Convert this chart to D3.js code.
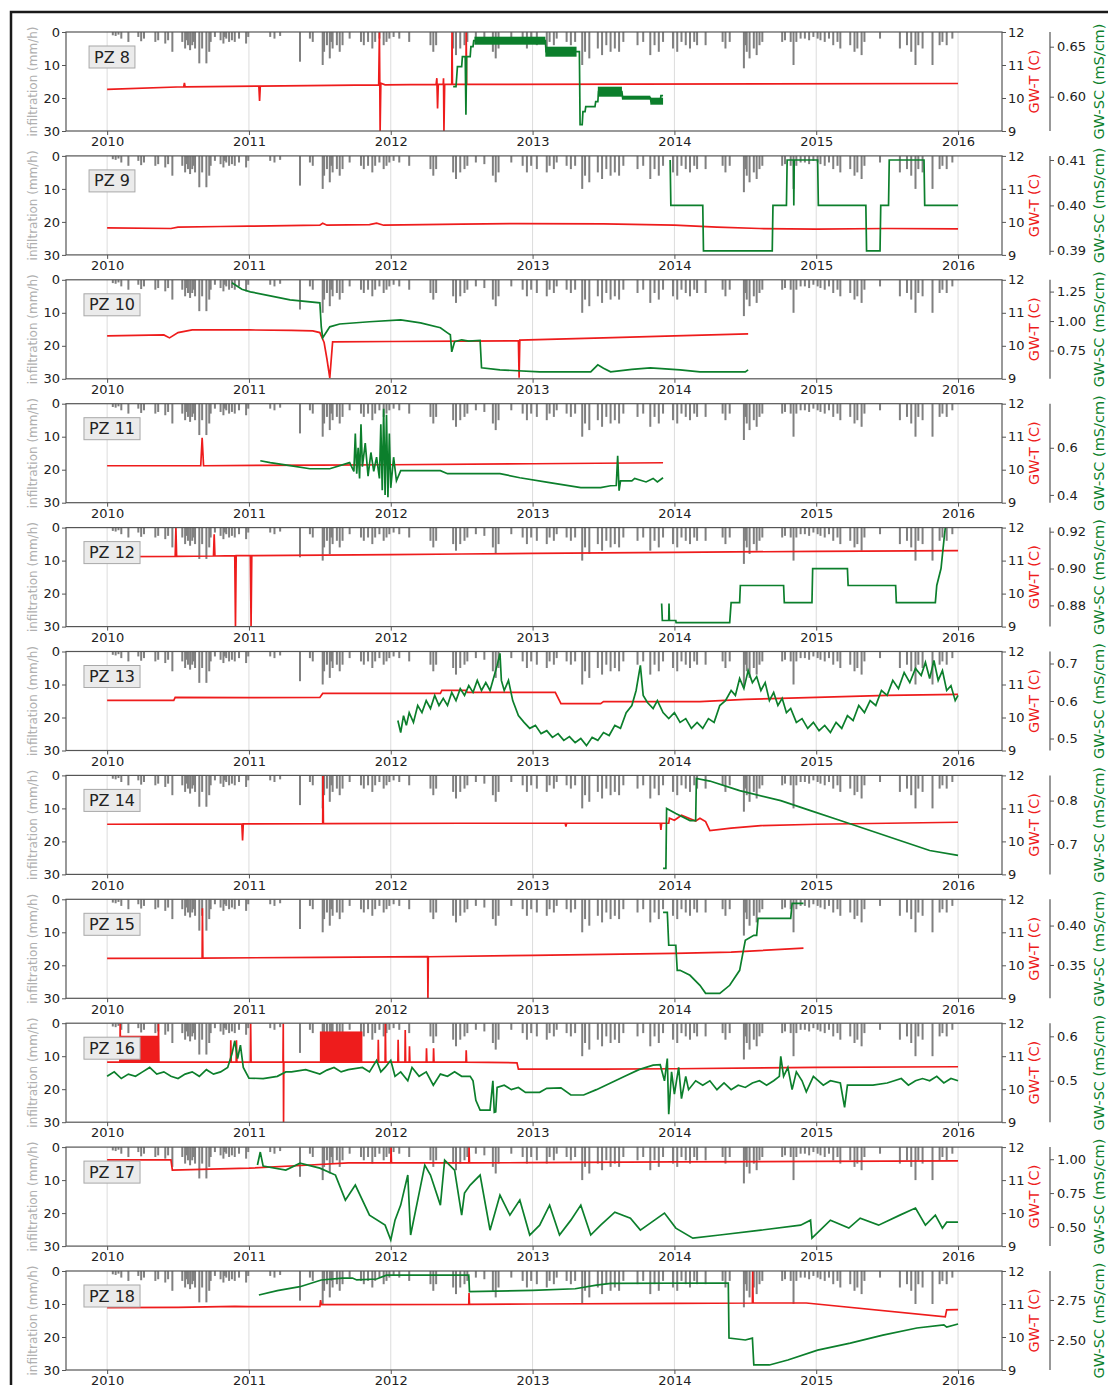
<!DOCTYPE html>
<html>
<head>
<meta charset="utf-8">
<script src="https://cdn.jsdelivr.net/npm/d3@7"></script>
<style>
  body { margin: 0; background: #fff; }
  text { font-family: "DejaVu Sans", sans-serif; }
</style>
</head>
<body>
<div id="chart"></div>
<script>
// Groundwater temperature / conductivity vs infiltration, 11 piezometers

const years = [2010, 2011, 2012, 2013, 2014, 2015, 2016];
const panelNames = ["PZ 8", "PZ 9", "PZ 10", "PZ 11", "PZ 12", "PZ 13", "PZ 14", "PZ 15", "PZ 16", "PZ 17", "PZ 18"];
const infTicks = [0, 10, 20, 30];
const tempTicks = [9, 10, 11, 12];

// infiltration (mm/h), same series in every panel: [year, value]
const infiltration = [
  [2010.04,1],[2010.06,1.2],[2010.08,0.8],[2010.10,2],[2010.15,3],[2010.22,1.5],[2010.24,2.8],[2010.26,2],
  [2010.34,3],[2010.36,2.5],[2010.41,3.5],[2010.43,2.5],[2010.46,6],[2010.53,3],[2010.55,5],[2010.56,2.5],[2010.57,4],
  [2010.585,5.5],[2010.60,4],[2010.61,3],[2010.62,5],[2010.65,9.5],[2010.67,5],[2010.70,9.5],[2010.72,6],[2010.73,3],
  [2010.76,1.5],[2010.80,2.5],[2010.82,3.5],[2010.83,1.5],[2010.84,2],[2010.86,3],[2010.88,2.5],[2010.90,3],[2010.93,2],
  [2010.98,3.5],[2010.995,1.5],
  [2011.15,1.5],[2011.18,2],[2011.22,1.2],[2011.36,9],[2011.43,2],[2011.45,3],[2011.52,10],[2011.53,6],
  [2011.55,4],[2011.57,8],[2011.58,3],[2011.59,5],[2011.62,4],[2011.64,6],[2011.66,4],[2011.71,2],[2011.79,3],
  [2011.81,4],[2011.84,3],[2011.87,5],[2011.89,3],[2011.92,2],[2011.95,4],[2011.97,3],[2011.99,2],
  [2012.02,1.5],[2012.06,2],[2012.13,3],[2012.28,4],[2012.30,6],[2012.32,4],[2012.44,5],[2012.46,7],
  [2012.49,5],[2012.52,4],[2012.54,3],[2012.60,2],[2012.66,2.5],[2012.72,6],[2012.74,8],[2012.76,5],
  [2012.85,2],[2012.93,3],[2012.96,5],[2012.99,3],
  [2013.03,4],[2013.10,5],[2013.12,3],[2013.15,4],[2013.17,2],[2013.24,3],[2013.27,4],[2013.30,3],
  [2013.35,10],[2013.37,6],[2013.40,8],[2013.46,5],[2013.49,7],[2013.52,4],[2013.55,6],[2013.58,5],
  [2013.61,6],[2013.64,3],[2013.74,4],[2013.78,3],[2013.83,7],[2013.86,4],[2013.89,6],[2013.92,3],
  [2013.99,5],[2014.02,6],[2014.05,3],
  [2014.08,4],[2014.11,5],[2014.14,3],[2014.16,4],[2014.22,4],[2014.34,3],[2014.36,5],[2014.39,3],
  [2014.49,11],[2014.50,4],[2014.51,6],[2014.53,8],[2014.56,5],[2014.58,7],[2014.60,4],[2014.62,3],[2014.76,3],
  [2014.78,2.5],[2014.82,3],[2014.84,10],[2014.86,3],[2014.89,2],[2014.92,2],[2014.95,2.5],[2014.98,1.5],
  [2015.01,2],[2015.03,2.5],[2015.06,3],[2015.09,2],[2015.12,4],[2015.15,3],[2015.17,5],[2015.24,4],
  [2015.27,6],[2015.29,5],[2015.32,7],[2015.34,3],[2015.45,2],[2015.59,5],[2015.64,4],[2015.67,6],
  [2015.70,10],[2015.72,4],[2015.75,5],[2015.82,10],[2015.87,4],[2015.89,3],[2015.92,4],[2015.96,2]
];

// GW-T (C) per piezometer: [year, value]
const tempPZ8 = [[2010,10.26],[2010.54,10.34],[2010.545,10.46],[2010.55,10.34],[2011.07,10.36],[2011.075,9.91],[2011.08,10.36],
  [2011.915,10.40],[2011.92,12],[2011.925,9],[2011.93,10.45],[2011.96,10.40],[2012.32,10.41],[2012.325,10.6],[2012.33,9.68],
  [2012.335,10.41],[2012.37,10.41],[2012.372,10.6],[2012.375,9],[2012.38,10.41],[2012.43,10.41],[2012.432,12],[2012.435,10.41],
  [2012.53,10.41],[2012.532,12],[2012.535,10.41],[2016,10.44]];
const tempPZ9 = [[2010,9.82],[2010.45,9.80],[2010.5,9.84],[2010.8,9.86],[2011,9.87],[2011.5,9.90],[2011.52,9.96],[2011.55,9.9],
  [2011.85,9.92],[2011.9,9.96],[2011.95,9.9],[2012.5,9.93],[2012.9,9.95],[2013.5,9.94],[2014,9.9],[2014.3,9.84],[2014.6,9.80],
  [2015,9.78],[2015.5,9.80],[2016,9.79]];
const tempPZ10 = [[2010,10.30],[2010.4,10.33],[2010.44,10.24],[2010.5,10.40],[2010.6,10.48],[2011,10.48],[2011.3,10.47],[2011.45,10.45],
  [2011.5,10.40],[2011.53,10.1],[2011.55,9.6],[2011.57,9.03],[2011.59,10.12],[2012,10.13],[2012.5,10.14],[2012.9,10.15],
  [2012.905,9.03],[2012.91,10.17],[2013.5,10.24],[2014,10.30],[2014.52,10.36]];
const tempPZ11 = [[2010,10.12],[2010.66,10.12],[2010.67,10.97],[2010.68,10.12],[2011.5,10.14],[2012,10.15],[2013,10.18],[2013.92,10.21]];
const tempPZ12 = [[2010,11.12],[2010.48,11.13],[2010.485,12],[2010.49,11.13],[2010.75,11.14],[2010.755,11.8],[2010.76,11.14],
  [2010.90,11.15],[2010.905,9],[2010.91,11.15],[2011.01,11.15],[2011.015,9],[2011.02,11.15],[2012,11.18],[2012.5,11.2],
  [2013,11.22],[2014,11.25],[2015,11.28],[2016,11.30]];
const tempPZ13 = [[2010,10.52],[2010.47,10.52],[2010.48,10.61],[2011,10.6],[2011.5,10.61],[2011.52,10.73],[2012.35,10.73],
  [2012.36,10.82],[2012.53,10.82],[2012.54,10.76],[2013.16,10.76],[2013.2,10.42],[2013.48,10.42],[2013.5,10.48],[2014.18,10.48],
  [2014.5,10.55],[2015,10.61],[2015.5,10.67],[2016,10.70]];
const tempPZ14 = [[2010,10.52],[2010.95,10.53],[2010.955,10.03],[2010.96,10.53],[2011.52,10.54],[2011.522,12],[2011.525,10.54],
  [2012.5,10.55],[2013.23,10.55],[2013.235,10.45],[2013.24,10.55],[2013.9,10.55],[2013.905,10.35],[2013.91,10.55],[2013.96,10.55],
  [2013.965,10.70],[2014,10.64],[2014.05,10.79],[2014.15,10.62],[2014.18,10.70],[2014.22,10.60],[2014.25,10.33],[2014.4,10.40],
  [2014.61,10.48],[2015,10.52],[2016,10.58]];
const tempPZ15 = [[2010,10.21],[2010.67,10.22],[2010.672,11.73],[2010.675,10.22],[2011.5,10.24],[2012.26,10.26],[2012.262,9],
  [2012.265,10.26],[2013,10.30],[2014,10.36],[2014.4,10.40],[2014.91,10.52]];
const tempPZ16 = [[2010,10.82],[2010.09,10.82],[2010.092,12],[2010.095,10.82],[2010.36,10.82],[2010.362,12],[2010.365,10.82],
  [2010.87,10.82],[2010.872,11.48],[2010.875,10.82],[2010.91,10.82],[2010.912,11.48],[2010.915,10.82],[2011.01,10.82],[2011.012,12],
  [2011.015,10.82],[2011.24,10.82],[2011.242,12],[2011.244,9],[2011.246,10.82],[2011.91,10.82],[2011.912,11.5],[2011.915,10.82],
  [2011.96,10.82],[2011.962,12],[2011.965,10.82],[2012.05,10.82],[2012.052,11.5],[2012.055,10.82],[2012.10,10.82],[2012.102,11.79],
  [2012.105,10.82],[2012.13,10.82],[2012.132,11.3],[2012.135,10.82],[2012.25,10.82],[2012.252,11.24],[2012.255,10.82],[2012.30,10.82],
  [2012.302,11.24],[2012.305,10.82],[2012.53,10.82],[2012.532,11.18],[2012.535,10.82],[2012.89,10.80],[2012.9,10.61],[2013.5,10.61],
  [2014,10.62],[2015,10.66],[2016,10.68]];
const tempPZ17 = [[2010,11.61],[2010.45,11.61],[2010.46,11.30],[2011,11.36],[2011.4,11.45],[2011.7,11.52],[2012,11.52],[2012.002,12],
  [2012.005,11.52],[2012.55,11.52],[2012.552,12],[2012.555,11.52],[2013,11.53],[2014,11.55],[2015,11.57],[2016,11.58]];
const tempPZ18 = [[2010,10.89],[2010.5,10.90],[2010.9,10.93],[2011,10.92],[2011.5,10.93],[2011.505,11.12],[2011.51,10.98],
  [2012.55,10.99],[2012.552,11.33],[2012.555,10.99],[2013,11.0],[2014,11.02],[2014.55,11.03],[2014.552,12],[2014.555,11.03],
  [2014.93,11.03],[2015.91,10.61],[2015.92,10.82],[2016,10.83]];

// GW-SC (mS/cm) per piezometer: [year, value]
const scPZ8 = [[2012.44,0.610],[2012.46,0.610],[2012.465,0.620],[2012.47,0.630],[2012.50,0.630],[2012.505,0.640],[2012.525,0.640],
  [2012.53,0.582],[2012.535,0.640],[2012.56,0.640],[2012.565,0.650],[2012.58,0.650],[2012.585,0.656],[2013.09,0.656],[2013.095,0.645],
  [2013.31,0.645],[2013.33,0.645],[2013.335,0.572],[2013.35,0.572],[2013.355,0.585],[2013.37,0.585],[2013.375,0.590],[2013.44,0.590],
  [2013.445,0.595],[2013.46,0.595],[2013.465,0.605],[2013.63,0.605],[2013.635,0.599],[2013.83,0.599],[2013.835,0.595],[2013.90,0.595],
  [2013.905,0.601],[2013.92,0.601]];
const scPZ9 = [[2013.97,0.41],[2013.975,0.40],[2014.20,0.40],[2014.205,0.39],[2014.69,0.39],[2014.695,0.40],[2014.79,0.40],
  [2014.795,0.41],[2014.84,0.41],[2014.842,0.40],[2014.845,0.41],[2015.01,0.41],[2015.015,0.40],[2015.35,0.40],[2015.355,0.39],
  [2015.45,0.39],[2015.455,0.40],[2015.51,0.40],[2015.515,0.41],[2015.76,0.41],[2015.765,0.40],[2016,0.40]];
const scPZ10 = [[2010.88,1.325],[2010.95,1.27],[2011.01,1.248],[2011.15,1.214],[2011.29,1.18],[2011.5,1.155],[2011.51,0.95],
  [2011.52,0.858],[2011.57,0.951],[2011.64,0.975],[2011.85,0.994],[2012.07,1.01],[2012.21,0.985],[2012.35,0.943],[2012.4,0.90],
  [2012.42,0.883],[2012.43,0.739],[2012.45,0.824],[2012.5,0.841],[2012.55,0.83],[2012.63,0.835],[2012.64,0.603],[2012.77,0.586],
  [2013.05,0.569],[2013.41,0.569],[2013.46,0.629],[2013.5,0.60],[2013.55,0.569],[2013.7,0.59],[2013.83,0.603],[2014.04,0.586],
  [2014.18,0.569],[2014.5,0.569],[2014.52,0.586]];
const scPZ11 = [[2011.08,0.545],[2011.15,0.537],[2011.29,0.524],[2011.43,0.511],[2011.57,0.511],[2011.71,0.537],[2011.74,0.50],
  [2011.75,0.66],[2011.76,0.49],[2011.77,0.60],[2011.78,0.47],[2011.79,0.70],[2011.80,0.52],[2011.82,0.62],[2011.84,0.48],
  [2011.86,0.58],[2011.88,0.50],[2011.90,0.56],[2011.92,0.47],[2011.93,0.70],[2011.94,0.42],[2011.95,0.766],[2011.96,0.40],
  [2011.97,0.74],[2011.98,0.39],[2011.99,0.66],[2012.00,0.43],[2012.02,0.56],[2012.04,0.46],[2012.07,0.503],[2012.35,0.503],
  [2012.40,0.49],[2012.77,0.49],[2012.91,0.473],[2013.12,0.452],[2013.34,0.431],[2013.48,0.431],[2013.55,0.439],[2013.59,0.44],
  [2013.60,0.566],[2013.61,0.418],[2013.62,0.46],[2013.70,0.46],[2013.72,0.47],[2013.80,0.455],[2013.85,0.47],[2013.88,0.455],
  [2013.92,0.473]];
const scPZ12 = [[2013.91,0.881],[2013.915,0.8718],[2013.96,0.8718],[2013.962,0.881],[2013.965,0.8718],[2014.01,0.8718],
  [2014.012,0.8707],[2014.39,0.8707],[2014.40,0.8815],[2014.46,0.8815],[2014.465,0.8908],[2014.77,0.8908],[2014.775,0.8815],
  [2014.97,0.8815],[2014.975,0.900],[2015.22,0.900],[2015.225,0.8908],[2015.56,0.8908],[2015.565,0.8815],[2015.84,0.8815],
  [2015.85,0.8908],[2015.88,0.900],[2015.90,0.915],[2015.91,0.922]];
const scPZ13 = [[2012.05,0.548],[2012.07,0.516],[2012.09,0.561],[2012.11,0.535],[2012.13,0.569],[2012.16,0.543],[2012.19,0.588],
  [2012.22,0.569],[2012.25,0.601],[2012.28,0.580],[2012.31,0.615],[2012.34,0.588],[2012.37,0.607],[2012.40,0.588],[2012.43,0.623],
  [2012.46,0.601],[2012.49,0.633],[2012.52,0.615],[2012.55,0.641],[2012.58,0.623],[2012.61,0.655],[2012.64,0.628],[2012.67,0.649],
  [2012.70,0.628],[2012.73,0.668],[2012.75,0.695],[2012.77,0.727],[2012.78,0.655],[2012.80,0.628],[2012.83,0.655],[2012.86,0.601],
  [2012.90,0.561],[2012.94,0.543],[2012.98,0.527],[2013.02,0.535],[2013.06,0.513],[2013.10,0.521],[2013.14,0.503],[2013.18,0.513],
  [2013.22,0.495],[2013.26,0.505],[2013.30,0.489],[2013.34,0.500],[2013.38,0.481],[2013.42,0.503],[2013.46,0.495],[2013.50,0.516],
  [2013.54,0.508],[2013.58,0.535],[2013.62,0.527],[2013.66,0.569],[2013.70,0.588],[2013.73,0.628],[2013.76,0.695],[2013.78,0.615],
  [2013.81,0.596],[2013.85,0.580],[2013.88,0.601],[2013.92,0.569],[2013.96,0.553],[2014.00,0.569],[2014.04,0.543],[2014.08,0.553],
  [2014.12,0.527],[2014.16,0.543],[2014.20,0.527],[2014.24,0.553],[2014.28,0.543],[2014.32,0.588],[2014.36,0.601],[2014.40,0.628],
  [2014.43,0.615],[2014.46,0.660],[2014.49,0.633],[2014.52,0.681],[2014.55,0.649],[2014.58,0.665],[2014.61,0.628],[2014.64,0.649],
  [2014.67,0.601],[2014.70,0.623],[2014.73,0.588],[2014.76,0.607],[2014.79,0.569],[2014.82,0.580],[2014.86,0.543],[2014.90,0.553],
  [2014.94,0.527],[2014.98,0.543],[2015.02,0.521],[2015.06,0.535],[2015.10,0.516],[2015.14,0.543],[2015.18,0.527],[2015.22,0.561],
  [2015.26,0.548],[2015.30,0.588],[2015.34,0.569],[2015.38,0.601],[2015.42,0.588],[2015.46,0.628],[2015.50,0.615],[2015.54,0.655],
  [2015.58,0.633],[2015.62,0.676],[2015.66,0.649],[2015.70,0.687],[2015.74,0.668],[2015.77,0.703],[2015.80,0.660],[2015.83,0.708],
  [2015.86,0.655],[2015.89,0.681],[2015.92,0.628],[2015.95,0.641],[2015.98,0.601],[2016.00,0.615]];
const scPZ14 = [[2013.92,0.644],[2013.94,0.644],[2013.945,0.782],[2014.01,0.770],[2014.11,0.754],[2014.15,0.754],[2014.155,0.851],
  [2014.25,0.845],[2014.46,0.823],[2014.75,0.800],[2014.96,0.777],[2015.17,0.754],[2015.38,0.731],[2015.59,0.708],[2015.80,0.685],
  [2016,0.674]];
const scPZ15 = [[2013.92,0.4168],[2013.95,0.4168],[2013.96,0.375],[2014.01,0.375],[2014.02,0.3432],[2014.04,0.3432],[2014.11,0.3369],
  [2014.18,0.3242],[2014.22,0.3140],[2014.32,0.3140],[2014.39,0.3242],[2014.46,0.3432],[2014.50,0.3813],[2014.56,0.3876],
  [2014.58,0.3876],[2014.59,0.4092],[2014.82,0.4092],[2014.83,0.4282],[2014.91,0.4282]];
const scPZ16 = [[2010,0.51],[2010.05,0.52],[2010.1,0.505],[2010.15,0.515],[2010.2,0.51],[2010.25,0.52],[2010.3,0.53],[2010.35,0.515],
  [2010.4,0.52],[2010.45,0.51],[2010.5,0.505],[2010.55,0.515],[2010.6,0.52],[2010.65,0.51],[2010.7,0.525],[2010.75,0.515],[2010.8,0.52],
  [2010.85,0.53],[2010.88,0.56],[2010.9,0.59],[2010.92,0.55],[2010.94,0.58],[2010.96,0.53],[2011,0.506],[2011.1,0.505],[2011.2,0.51],
  [2011.26,0.52],[2011.3,0.52],[2011.4,0.525],[2011.5,0.515],[2011.55,0.524],[2011.6,0.53],[2011.65,0.52],[2011.7,0.525],[2011.8,0.53],
  [2011.85,0.52],[2011.9,0.546],[2011.93,0.52],[2011.96,0.53],[2012,0.546],[2012.03,0.51],[2012.07,0.52],[2012.12,0.5],[2012.15,0.53],
  [2012.2,0.51],[2012.25,0.52],[2012.3,0.49],[2012.35,0.515],[2012.4,0.51],[2012.45,0.52],[2012.5,0.51],[2012.56,0.51],[2012.58,0.50],
  [2012.6,0.456],[2012.63,0.434],[2012.7,0.434],[2012.72,0.50],[2012.73,0.429],[2012.74,0.43],[2012.75,0.485],[2012.8,0.49],
  [2012.85,0.48],[2012.9,0.485],[2012.95,0.474],[2013.05,0.474],[2013.1,0.483],[2013.2,0.484],[2013.27,0.468],[2013.36,0.468],
  [2013.45,0.48],[2013.55,0.495],[2013.65,0.51],[2013.75,0.525],[2013.85,0.535],[2013.9,0.536],[2013.93,0.50],[2013.95,0.55],
  [2013.96,0.425],[2013.98,0.52],[2014,0.47],[2014.03,0.53],[2014.05,0.46],[2014.08,0.51],[2014.1,0.48],[2014.15,0.50],[2014.2,0.49],
  [2014.25,0.50],[2014.3,0.48],[2014.35,0.495],[2014.4,0.48],[2014.45,0.49],[2014.5,0.485],[2014.55,0.495],[2014.6,0.5],[2014.65,0.49],
  [2014.7,0.5],[2014.74,0.51],[2014.75,0.555],[2014.77,0.51],[2014.8,0.53],[2014.83,0.48],[2014.86,0.52],[2014.9,0.5],[2014.93,0.475],
  [2014.98,0.51],[2015.05,0.49],[2015.1,0.5],[2015.17,0.495],[2015.2,0.44],[2015.22,0.49],[2015.3,0.49],[2015.4,0.49],[2015.5,0.495],
  [2015.55,0.50],[2015.6,0.505],[2015.65,0.49],[2015.7,0.50],[2015.75,0.505],[2015.8,0.50],[2015.85,0.51],[2015.9,0.495],
  [2015.95,0.505],[2016,0.50]];
const scPZ17 = [[2011.06,0.957],[2011.08,1.053],[2011.1,0.95],[2011.26,0.920],[2011.36,0.971],[2011.5,0.934],[2011.61,0.883],
  [2011.68,0.698],[2011.75,0.809],[2011.85,0.587],[2011.96,0.513],[2012,0.403],[2012.03,0.55],[2012.07,0.661],[2012.12,0.883],
  [2012.14,0.440],[2012.19,0.698],[2012.24,0.957],[2012.28,0.883],[2012.35,0.661],[2012.38,0.994],[2012.45,0.920],[2012.5,0.587],
  [2012.52,0.75],[2012.56,0.809],[2012.63,0.883],[2012.7,0.476],[2012.77,0.735],[2012.84,0.587],[2012.91,0.698],[2012.98,0.440],
  [2013.05,0.513],[2013.12,0.661],[2013.19,0.440],[2013.27,0.550],[2013.34,0.661],[2013.41,0.440],[2013.48,0.513],[2013.58,0.609],
  [2013.69,0.565],[2013.76,0.476],[2013.86,0.550],[2013.93,0.602],[2014.01,0.491],[2014.13,0.417],[2014.32,0.440],[2014.61,0.476],
  [2014.89,0.513],[2014.96,0.550],[2014.97,0.417],[2015.1,0.550],[2015.23,0.491],[2015.31,0.565],[2015.44,0.513],[2015.59,0.587],
  [2015.7,0.639],[2015.77,0.513],[2015.84,0.587],[2015.89,0.491],[2015.92,0.535],[2016,0.535]];
const scPZ18 = [[2011.07,2.781],[2011.2,2.808],[2011.36,2.833],[2011.51,2.875],[2011.66,2.887],[2011.73,2.887],[2011.76,2.875],
  [2011.9,2.881],[2011.97,2.905],[2012.2,2.905],[2012.55,2.905],[2012.555,2.802],[2013,2.81],[2013.3,2.82],[2013.45,2.843],
  [2013.55,2.854],[2014.38,2.856],[2014.385,2.512],[2014.5,2.50],[2014.55,2.512],[2014.56,2.344],[2014.67,2.344],[2014.8,2.375],
  [2015.01,2.437],[2015.24,2.48],[2015.47,2.53],[2015.71,2.575],[2015.9,2.594],[2015.92,2.58],[2016,2.60]];

// rapidly oscillating stretches drawn as filled bands: [start, end, low, high]
const scBandsPZ8 = [[2012.59,2013.09,0.652,0.660],[2013.09,2013.31,0.640,0.650],[2013.46,2013.63,0.600,0.610],
  [2013.63,2013.83,0.597,0.601],[2013.83,2013.92,0.592,0.599]];
const tempBandsPZ16 = [[2010.09,2010.36,10.82,11.62],[2011.50,2011.80,10.82,11.75]];

// right-most axis (GW-SC) ranges and ticks
const scDomains = [[0.5657,0.6647],[0.3891,0.4109],[0.51,1.35],[0.367,0.787],[0.8685,0.9222],[0.468,0.732],
  [0.630,0.858],[0.3077,0.4333],[0.4068,0.6295],[0.3582,1.0896],[2.3125,2.931]];
const scTicks = [[0.60,0.65],[0.39,0.40,0.41],[0.75,1.00,1.25],[0.4,0.6],[0.88,0.90,0.92],[0.5,0.6,0.7],
  [0.7,0.8],[0.35,0.40],[0.5,0.6],[0.50,0.75,1.00],[2.50,2.75]];
const scDecimals = [2, 2, 2, 1, 2, 1, 1, 2, 1, 2, 2];

const tempSeries = [tempPZ8, tempPZ9, tempPZ10, tempPZ11, tempPZ12, tempPZ13, tempPZ14, tempPZ15, tempPZ16, tempPZ17, tempPZ18];
const scSeries = [scPZ8, scPZ9, scPZ10, scPZ11, scPZ12, scPZ13, scPZ14, scPZ15, scPZ16, scPZ17, scPZ18];
const scBands = [scBandsPZ8, [], [], [], [], [], [], [], [], [], []];
const tempBands = [[], [], [], [], [], [], [], [], tempBandsPZ16, [], []];

// layout
const width = 1108, height = 1385;
const plotLeft = 66, plotRight = 1002;
const firstTop = 32, pitch = 123.9, panelH = 99;
const scAxisX = 1050;
const RED = "#ee1c1c", GREEN = "#0c7f2c", BAR = "#808080";

const svg = d3.select("#chart").append("svg")
  .attr("width", width)
  .attr("height", height);

// outer frame of the figure
svg.append("path")
  .attr("d", `M11,${height} L11,12 L${width},12`)
  .attr("fill", "none")
  .attr("stroke", "#1a1a1a")
  .attr("stroke-width", 2.5);

const x = d3.scaleLinear().domain([2009.71, 2016.31]).range([plotLeft, plotRight]);

panelNames.forEach((name, i) => {
  const top = firstTop + i * pitch;
  const bottom = top + panelH;
  const yInf = d3.scaleLinear().domain([0, 30]).range([top, bottom]);
  const yT = d3.scaleLinear().domain([9, 12]).range([bottom, top]);
  const ySC = d3.scaleLinear().domain(scDomains[i]).range([bottom, top]);

  const g = svg.append("g");
  const clipId = "clip" + i;
  g.append("clipPath").attr("id", clipId)
    .append("rect")
    .attr("x", plotLeft).attr("y", top)
    .attr("width", plotRight - plotLeft).attr("height", panelH);

  // year grid
  g.selectAll("line.grid")
    .data(years)
    .enter()
    .append("line")
    .attr("x1", d => x(d)).attr("x2", d => x(d))
    .attr("y1", top).attr("y2", bottom)
    .attr("stroke", "#dcdcdc")
    .attr("stroke-width", 1);

  const plot = g.append("g").attr("clip-path", `url(#${clipId})`);

  // infiltration bars hanging from the top
  plot.selectAll("rect.inf")
    .data(infiltration)
    .enter()
    .append("rect")
    .attr("x", d => x(d[0]) - 1)
    .attr("width", 2)
    .attr("y", yInf(0))
    .attr("height", d => yInf(d[1]) - yInf(0))
    .attr("fill", BAR);

  // temperature
  plot.selectAll("rect.tband")
    .data(tempBands[i])
    .enter()
    .append("rect")
    .attr("x", d => x(d[0]))
    .attr("width", d => x(d[1]) - x(d[0]))
    .attr("y", d => yT(d[3]))
    .attr("height", d => yT(d[2]) - yT(d[3]))
    .attr("fill", RED);

  plot.append("path")
    .datum(tempSeries[i])
    .attr("d", d3.line().x(d => x(d[0])).y(d => yT(d[1])))
    .attr("fill", "none")
    .attr("stroke", RED)
    .attr("stroke-width", 1.7);

  // specific conductance
  plot.selectAll("rect.sband")
    .data(scBands[i])
    .enter()
    .append("rect")
    .attr("x", d => x(d[0]))
    .attr("width", d => x(d[1]) - x(d[0]))
    .attr("y", d => ySC(d[3]))
    .attr("height", d => ySC(d[2]) - ySC(d[3]))
    .attr("fill", GREEN);

  plot.append("path")
    .datum(scSeries[i])
    .attr("d", d3.line().x(d => x(d[0])).y(d => ySC(d[1])))
    .attr("fill", "none")
    .attr("stroke", GREEN)
    .attr("stroke-width", 1.7);

  // frame
  g.append("rect")
    .attr("x", plotLeft).attr("y", top)
    .attr("width", plotRight - plotLeft).attr("height", panelH)
    .attr("fill", "none")
    .attr("stroke", "#555")
    .attr("stroke-width", 1.2);

  // axes
  const styleAxis = sel => {
    sel.select(".domain").remove();
    sel.selectAll(".tick line").attr("stroke", "#555");
    sel.selectAll(".tick text")
      .attr("fill", "#222")
      .style("font-size", "13px")
      .style("font-family", "DejaVu Sans");
  };

  g.append("g")
    .attr("transform", `translate(${plotLeft},0)`)
    .call(d3.axisLeft(yInf).tickValues(infTicks).tickSize(4).tickPadding(2))
    .call(styleAxis);

  g.append("g")
    .attr("transform", `translate(0,${bottom})`)
    .call(d3.axisBottom(x).tickValues(years).tickFormat(d3.format("d")).tickSize(4).tickPadding(2))
    .call(styleAxis);

  g.append("g")
    .attr("transform", `translate(${plotRight},0)`)
    .call(d3.axisRight(yT).tickValues(tempTicks).tickFormat(d3.format("d")).tickSize(4).tickPadding(2))
    .call(styleAxis);

  const scAxis = g.append("g")
    .attr("transform", `translate(${scAxisX},0)`)
    .call(d3.axisRight(ySC).tickValues(scTicks[i]).tickFormat(d3.format("." + scDecimals[i] + "f")).tickSize(4).tickPadding(3))
    .call(styleAxis);
  scAxis.append("line")
    .attr("x1", 0).attr("x2", 0)
    .attr("y1", top).attr("y2", bottom)
    .attr("stroke", "#555")
    .attr("stroke-width", 1.2);

  // axis titles
  const mid = top + panelH / 2;
  g.append("text")
    .attr("transform", `translate(33,${mid}) rotate(-90)`)
    .attr("text-anchor", "middle")
    .attr("dominant-baseline", "central")
    .style("font-size", "12px")
    .attr("fill", "#b0b0b0")
    .text("infiltration (mm/h)");

  g.append("text")
    .attr("transform", `translate(1034,${mid}) rotate(-90)`)
    .attr("text-anchor", "middle")
    .attr("dominant-baseline", "central")
    .style("font-size", "14.5px")
    .attr("fill", RED)
    .text("GW-T (C)");

  g.append("text")
    .attr("transform", `translate(1099,${mid}) rotate(-90)`)
    .attr("text-anchor", "middle")
    .attr("dominant-baseline", "central")
    .style("font-size", "14.5px")
    .attr("fill", GREEN)
    .text("GW-SC (mS/cm)");

  // piezometer label
  const lab = g.append("g");
  const t = lab.append("text")
    .attr("x", 112).attr("y", top + 25)
    .attr("text-anchor", "middle")
    .attr("dominant-baseline", "central")
    .style("font-size", "16px")
    .attr("fill", "#222")
    .text(name);
  const bb = t.node().getBBox();
  lab.insert("rect", "text")
    .attr("x", bb.x - 5).attr("y", top + 14)
    .attr("width", bb.width + 10).attr("height", 22)
    .attr("fill", "#ebebeb")
    .attr("stroke", "#a8a8a8")
    .attr("stroke-width", 1);
});
</script>
</body>
</html>
